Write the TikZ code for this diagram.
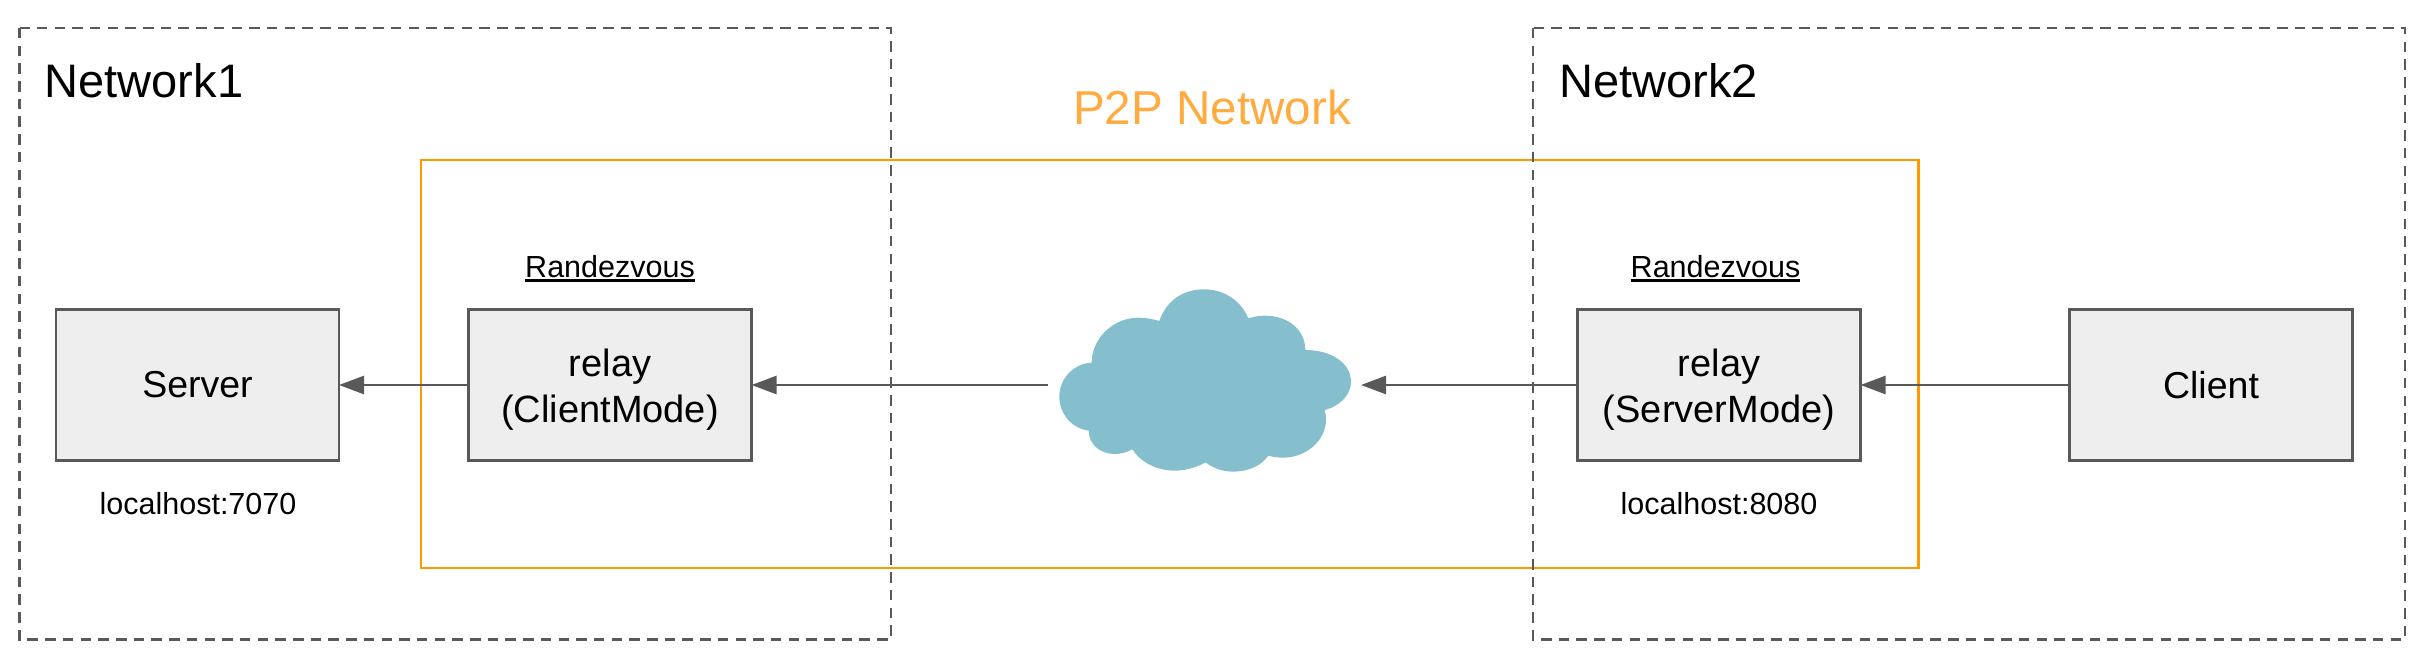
\documentclass[tikz,border=0pt]{standalone}
\usepackage{fontspec}
\setmainfont{Liberation Sans}
\usetikzlibrary{arrows.meta}
\definecolor{edgegray}{HTML}{595959}
\definecolor{boxfill}{HTML}{EEEEEE}
\definecolor{p2porange}{HTML}{FF9900}
\definecolor{p2ptext}{HTML}{FFAB40}
\definecolor{cloudblue}{HTML}{85BFCE}
\newcommand{\rvline}[1]{\vtop{\hbox{#1}\kern 2pt\hrule height 2.8pt}}
\tikzset{
  netbox/.style={draw=edgegray,line width=2.7pt,dash pattern=on 10.5pt off 7.2pt},
  p2pbox/.style={draw=p2porange,line width=2.6pt},
  appbox/.style={draw=edgegray,line width=2.8pt,fill=boxfill,minimum width=283pt,minimum height=151pt,inner sep=0pt,outer sep=0pt,align=center,font=\fontsize{37.5}{45.5}\selectfont},
  relaybox/.style={appbox,font=\fontsize{38}{45.5}\selectfont},
  conn/.style={draw=edgegray,line width=2.6pt,-{Triangle[length=25pt,width=18pt]}},
  bigtext/.style={anchor=base west,inner sep=0pt,font=\fontsize{47}{50}\selectfont},
  smalltext/.style={anchor=base,inner sep=0pt,font=\fontsize{30.5}{36}\selectfont}
}
\begin{document}
\begin{tikzpicture}[x=1pt,y=-1pt]
\useasboundingbox (0,0) rectangle (2420,650);
\path[p2pbox] (421,160) rectangle (1918.5,568);
\path[netbox] (19.5,28) rectangle (891,639.5);
\path[netbox] (1533,28) rectangle (2405,639.5);
\node[bigtext] (net1) at (44.5,97.5) {Network1};
\node[bigtext] (net2) at (1559,97.5) {Network2};
\node[bigtext,anchor=base,text=p2ptext,font=\fontsize{47.6}{50}\selectfont] (p2p) at (1212,125) {P2P Network};
\node[appbox] (server) at (197.5,385) {Server};
\node[relaybox] (relayc) at (610,385) {\rule{0pt}{37pt}relay\\(ClientMode)};
\node[relaybox] (relays) at (1719,385) {\rule{0pt}{37pt}relay\\(ServerMode)};
\node[appbox] (client) at (2211,385) {Client};
\node[smalltext] (rv1) at (610,277) {\rvline{Randezvous}};
\node[smalltext] (rv2) at (1715.5,277) {\rvline{Randezvous}};
\node[smalltext] (lh1) at (198,514.5) {localhost:7070};
\node[smalltext] (lh2) at (1719,514.5) {localhost:8080};
\begin{scope}[shift={(1000,260)},x=0.3333pt,y=-0.3333pt]
\fill[cloudblue] (478,183) .. controls (500,120) and (550,88) .. (612,88)
 .. controls (675,88) and (725,125) .. (745,175)
 .. controls (765,169) and (780,167) .. (795,167)
 .. controls (865,167) and (916,210) .. (916,270)
 .. controls (995,270) and (1053,310) .. (1053,365)
 .. controls (1053,405) and (1020,438) .. (975,450)
 .. controls (977,460) and (978,470) .. (978,480)
 .. controls (978,540) and (920,593) .. (850,593)
 .. controls (833,593) and (818,591) .. (805,587)
 .. controls (785,617) and (745,635) .. (700,635)
 .. controls (667,635) and (638,624) .. (617,607)
 .. controls (590,622) and (558,632) .. (525,632)
 .. controls (470,632) and (422,607) .. (397,568)
 .. controls (382,577) and (363,582) .. (343,582)
 .. controls (300,582) and (266,552) .. (266,512)
 .. controls (215,505) and (178,462) .. (178,410)
 .. controls (178,355) and (222,310) .. (275,308)
 .. controls (275,235) and (340,173) .. (415,173)
 .. controls (438,173) and (458,177) .. (478,183) -- cycle;
\end{scope}
\coordinate (cloudw) at (1048,385);
\coordinate (cloude) at (1361,385);
\draw[conn] (relayc.west) -- (server.east);
\draw[conn] (cloudw) -- (relayc.east);
\draw[conn] (relays.west) -- (cloude);
\draw[conn] (client.west) -- (relays.east);
\end{tikzpicture}
\end{document}
